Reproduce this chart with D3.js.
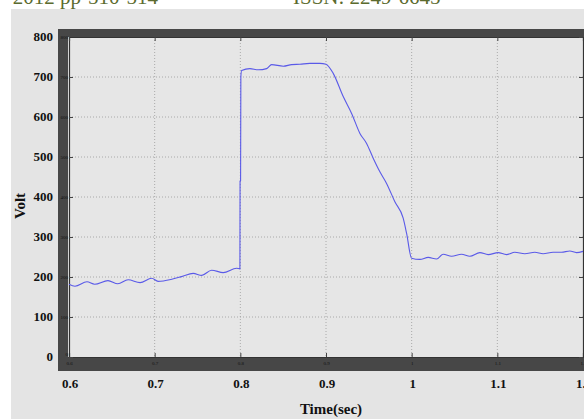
<!DOCTYPE html>
<html>
<head>
<meta charset="utf-8">
<script src="https://cdn.jsdelivr.net/npm/d3@7"></script>
<style>
  html, body { margin: 0; padding: 0; background: #fff; }
  svg { display: block; }
</style>
</head>
<body>
<svg id="chart" width="584" height="419"></svg>
<script>
// tick values
const timeTicks = [0.6, 0.7, 0.8, 0.9, 1.0, 1.1, 1.2];
const timeTickLabels = ["0.6", "0.7", "0.8", "0.9", "1", "1.1", "1.2"];
const voltTicks = [0, 100, 200, 300, 400, 500, 600, 700, 800];

const timeSec = [
  0.600, 0.607, 0.621, 0.630, 0.6455, 0.657, 0.669, 0.683, 0.6965, 0.704,
  0.721, 0.7315, 0.745, 0.755, 0.7665, 0.780, 0.7957, 0.7995,
  0.7997, 0.8003, 0.8006,
  0.8015, 0.8112, 0.8209, 0.8307, 0.8365, 0.8501, 0.8599, 0.8695, 0.8812, 0.8929, 0.9,
  0.9084, 0.9201, 0.9299, 0.9396, 0.9474, 0.9551, 0.9629, 0.9707, 0.9804, 0.9901, 0.9941, 0.9999,
  1.0096, 1.0193, 1.0291, 1.0368, 1.0466, 1.0582, 1.0679, 1.0796, 1.0893, 1.1009,
  1.1107, 1.1204, 1.1321, 1.1438, 1.1534, 1.1651, 1.1749, 1.1846, 1.1924, 1.2
];
const volts = [
  182, 177, 188, 182, 191, 183, 193, 186, 197, 189,
  195, 201, 209, 204, 217, 211, 222, 220,
  440, 441, 700,
  716, 721, 718, 721, 731, 727, 731, 732, 734, 734, 732,
  709, 651, 609, 559, 534, 497, 463, 434, 388, 347, 309, 247,
  244, 249, 245, 257, 252, 257, 252, 261, 256, 261,
  256, 262, 258, 262, 258, 262, 262, 265, 261, 264
];

const header = ["2012 pp-510-514", "ISSN: 2249-6645"];

const svg = d3.select("#chart");
const W = 584, H = 419;
const plot = { left: 69, right: 583, top: 37, bottom: 357 };

const x = d3.scaleLinear().domain([0.6, 1.2]).range([plot.left, plot.right]);
const y = d3.scaleLinear().domain([0, 800]).range([plot.bottom, plot.top]);

// page header, cut off by the crop
svg.append("text")
  .attr("x", 158).attr("y", 4)
  .attr("text-anchor", "end")
  .attr("font-family", "Liberation Serif")
  .attr("font-size", 21)
  .attr("fill", "#5b6b2e")
  .text(header[0]);
svg.append("text")
  .attr("x", 293).attr("y", 4)
  .attr("font-family", "Liberation Serif")
  .attr("font-size", 21)
  .attr("fill", "#5b6b2e")
  .text(header[1]);

// grey figure panel
svg.append("rect")
  .attr("x", 11).attr("y", 9)
  .attr("width", W - 11).attr("height", H - 9)
  .attr("fill", "#e4e4e4");

// dark frame of the pasted plot
svg.append("rect")
  .attr("x", 58).attr("y", 29)
  .attr("width", W - 58).attr("height", 371 - 29)
  .attr("fill", "#474747");
svg.append("rect")
  .attr("x", 68).attr("y", plot.top)
  .attr("width", W - 68).attr("height", plot.bottom - plot.top)
  .attr("fill", "#e6e6e6");

// dotted grid
const grid = svg.append("g").attr("class", "grid");
grid.selectAll(".vgrid")
  .data(timeTicks.slice(1, -1))
  .join("line")
  .attr("class", "vgrid")
  .attr("x1", d => x(d)).attr("x2", d => x(d))
  .attr("y1", plot.top).attr("y2", plot.bottom)
  .attr("stroke", "#9a9a9a")
  .attr("stroke-width", 0.8)
  .attr("stroke-dasharray", "1 2");
grid.selectAll(".hgrid")
  .data(voltTicks.slice(1, -1))
  .join("line")
  .attr("class", "hgrid")
  .attr("x1", plot.left).attr("x2", plot.right)
  .attr("y1", d => y(d)).attr("y2", d => y(d))
  .attr("stroke", "#9a9a9a")
  .attr("stroke-width", 0.8)
  .attr("stroke-dasharray", "1 2");

// inner axes with tiny labels (MATLAB style)
function styleAxis(g) {
  g.select(".domain").attr("stroke", "#333").attr("stroke-width", 1.2);
  g.selectAll(".tick line").attr("stroke", "#444").attr("stroke-width", 1);
  g.selectAll(".tick text")
    .attr("font-family", "Liberation Serif")
    .attr("font-size", 5)
    .attr("fill", "#111");
}
svg.append("g")
  .attr("transform", `translate(0,${plot.bottom})`)
  .call(d3.axisBottom(x).tickValues(timeTicks).tickSize(-4).tickPadding(4)
    .tickFormat((d, i) => timeTickLabels[i]))
  .call(styleAxis);
svg.append("g")
  .attr("transform", `translate(${plot.left},0)`)
  .call(d3.axisLeft(y).tickValues(voltTicks).tickSize(-4).tickPadding(1))
  .call(styleAxis)
  .call(g => g.selectAll(".tick text").attr("dy", d => d === 0 ? "-0.3em" : "0.32em"));
svg.append("g")
  .attr("transform", `translate(0,${plot.top})`)
  .call(d3.axisTop(x).tickValues(timeTicks).tickSize(-4).tickFormat(""))
  .call(styleAxis);
svg.append("g")
  .attr("transform", `translate(${plot.right},0)`)
  .call(d3.axisRight(y).tickValues(voltTicks).tickSize(-4).tickFormat(""))
  .call(styleAxis);

// voltage trace
const line = d3.line()
  .x((d, i) => x(timeSec[i]))
  .y(d => y(d))
  .curve(d3.curveMonotoneX);
svg.append("path")
  .datum(volts)
  .attr("d", line)
  .attr("fill", "none")
  .attr("stroke", "#5a5ae8")
  .attr("stroke-width", 1.1);

// big outer labels pasted over the figure
const big = svg.append("g")
  .attr("font-family", "Liberation Serif")
  .attr("font-weight", "bold")
  .attr("fill", "#111");
big.selectAll(".ylab")
  .data(voltTicks)
  .join("text")
  .attr("class", "ylab")
  .attr("x", 53)
  .attr("y", d => y(d) + 4)
  .attr("text-anchor", "end")
  .attr("font-size", 13)
  .text(d => d);
big.selectAll(".xlab")
  .data(timeTicks)
  .join("text")
  .attr("class", "xlab")
  .attr("x", d => x(d) + 1)
  .attr("y", 388)
  .attr("text-anchor", "middle")
  .attr("font-size", 13)
  .text((d, i) => timeTickLabels[i]);

big.append("text")
  .attr("x", 331).attr("y", 414)
  .attr("text-anchor", "middle")
  .attr("font-size", 15)
  .text("Time(sec)");
big.append("text")
  .attr("transform", "translate(25,206) rotate(-90)")
  .attr("text-anchor", "middle")
  .attr("font-size", 15)
  .text("Volt");
</script>
</body>
</html>
